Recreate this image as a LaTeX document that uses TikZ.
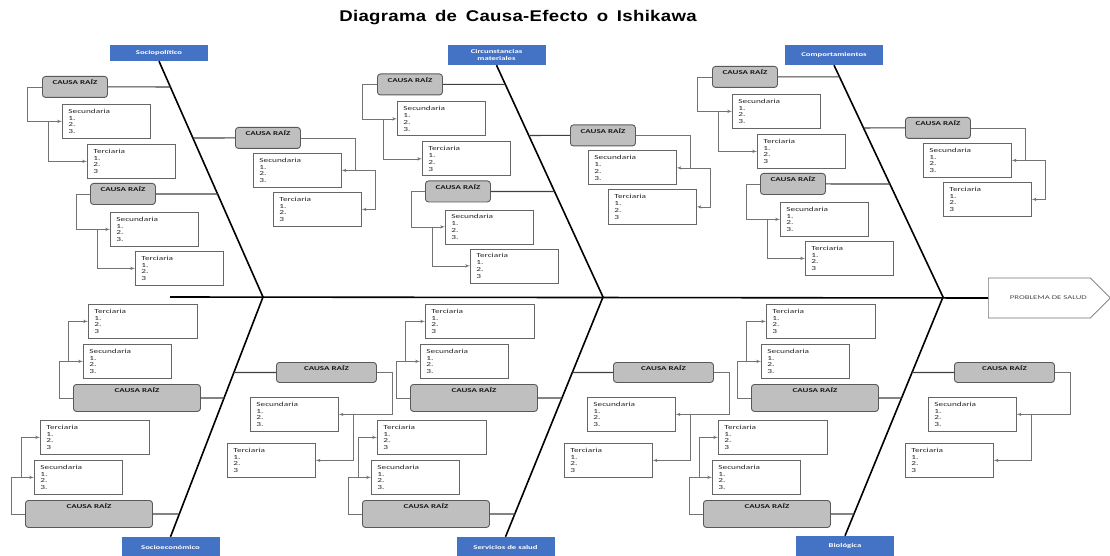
\documentclass[tikz,border=0pt]{standalone}
\usepackage{fontspec}
\setmainfont{Carlito}
\newfontfamily\cajafont[FakeStretch=1.5]{Carlito}
\newfontfamily\titulofont[FakeStretch=1.2,LetterSpace=2,WordSpace=1.6]{Liberation Sans}
\usetikzlibrary{shapes.symbols, arrows, calc}
\definecolor{azulcat}{HTML}{4472C4}
\definecolor{grisraiz}{HTML}{BFBFBF}

\begin{document}
\begin{tikzpicture}[x=1pt, y=-1pt]
    \tikzstyle{cat} = [rectangle, fill=azulcat, text=white, minimum width=98pt, minimum height=20pt, inner sep=1pt, align=center, font=\cajafont\bfseries\fontsize{5.8}{6.5}\selectfont]
    \tikzstyle{raiz} = [rectangle, draw=black!65, line width=0.9pt, fill=grisraiz, rounded corners=3pt, anchor=north west, inner ysep=3pt, text height=5.5pt, text depth=9.5pt, minimum width=65pt, text=black!90, font=\cajafont\bfseries\fontsize{6}{7}\selectfont]
    \tikzstyle{raizg} = [raiz, minimum width=127pt, text depth=15.5pt]
    \tikzstyle{lista} = [rectangle, draw=black!60, line width=0.7pt, fill=white, anchor=north west, align=left, inner xsep=6pt, text width=76pt, minimum height=34pt, text=black!85, font=\cajafont\fontsize{6.2}{6.8}\selectfont]
    \tikzstyle{listag} = [lista, text width=97pt]
    \tikzstyle{link} = [draw=black!55, line width=0.6pt, -latex']
    \tikzstyle{tie} = [draw=black!75, line width=1.1pt]
    \tikzstyle{rib} = [draw=black, line width=1.6pt]

    \useasboundingbox (0,0) rectangle (1110,556);

    \node[font=\titulofont\bfseries\fontsize{15.5}{18}\selectfont] (titulo) at (518,18) {Diagrama de Causa-Efecto o Ishikawa};

    % categorias
    \node[cat, minimum height=16pt] (topcat1) at (159,53) {Sociopolítico};
    \node[cat] (topcat2) at (496.5,55) {Circunstancias\\materiales};
    \node[cat] (topcat3) at (834,55) {Comportamientos};
    \node[cat] (botcat1) at (170.5,547) {Socioeconómico};
    \node[cat] (botcat2) at (505.5,547) {Servicios de salud};
    \node[cat] (botcat3) at (845,546) {Biológica};

    \node[shape=signal, signal to=east, signal pointer angle=90, draw=black!55, line width=0.7pt, fill=white, minimum width=122pt, minimum height=40pt, anchor=west, text=black!70, font=\cajafont\fontsize{5.8}{6.5}\selectfont] (prob) at (988,298) {\hspace*{18pt}PROBLEMA DE SALUD};

    % espina
    \coordinate (cola) at (170,297);
    \coordinate (j1) at (263,297);
    \coordinate (j2) at (603,297);
    \coordinate (j3) at (943,297);
    \path [rib] (cola) -- (prob.west);
    \foreach \i in {1,2,3}
        \path [rib] (topcat\i.south) -- (j\i) -- (botcat\i.north);

    % causas de arriba
    \foreach \i/\dx/\dy in {1/0/0, 2/335/-2.5, 3/670/-10} {
        \begin{scope}[shift={(\dx,\dy)}]
            \node [raiz] (cra\i) at (42,76) {CAUSA RAÍZ};
            \node [lista] (seca\i) at (62,104) {Secundaria\\1.\\2.\\3.};
            \node [lista] (tera\i) at (87,144) {Terciaria\\1.\\2.\\3};
            \node [raiz] (crb\i) at (90,183) {CAUSA RAÍZ};
            \node [lista] (secb\i) at (110,212) {Secundaria\\1.\\2.\\3.};
            \node [lista] (terb\i) at (135,251) {Terciaria\\1.\\2.\\3};
            \node [raiz] (crc\i) at (235,127) {CAUSA RAÍZ};
            \node [lista] (secc\i) at (253,153) {Secundaria\\1.\\2.\\3.};
            \node [lista] (terc\i) at (273,192) {Terciaria\\1.\\2.\\3};
        \end{scope}
        \path [tie] (cra\i.east) -- (intersection of cra\i.west--cra\i.east and topcat\i.south--j\i);
        \path [tie] (crb\i.east) -- (intersection of crb\i.west--crb\i.east and topcat\i.south--j\i);
        \path [tie] (crc\i.west) -- (intersection of crc\i.west--crc\i.east and topcat\i.south--j\i);
        \path [link] (cra\i.west) -- ++(-15,0) |- (seca\i.west);
        \path [link] ($(seca\i.west)+(-14,0)$) |- (tera\i.west);
        \path [link] (crb\i.west) -- ++(-14,0) |- (secb\i.west);
        \path [link] ($(secb\i.west)+(-13,0)$) |- (terb\i.west);
        \path [link] (crc\i.east) -| ($(secc\i.east)+(14,0)$) -- (secc\i.east);
        \path [link] ($(secc\i.east)+(14,0)$) -- ++(20,0) |- (terc\i.east);
    }

    % causas de abajo
    \foreach \i/\dx in {1/0, 2/337, 3/678} {
        \begin{scope}[shift={(\dx,0)}]
            \node [listag] (terd\i) at (88,304) {Terciaria\\1.\\2.\\3};
            \node [lista] (secd\i) at (83,344) {Secundaria\\1.\\2.\\3.};
            \node [raizg] (crd\i) at (73,384) {CAUSA RAÍZ};
            \node [listag] (tere\i) at (40,420) {Terciaria\\1.\\2.\\3};
            \node [lista] (sece\i) at (34,460) {Secundaria\\1.\\2.\\3.};
            \node [raizg] (cre\i) at (25,500) {CAUSA RAÍZ};
            \node [raiz, minimum width=100pt, text depth=8.5pt] (crf\i) at (276,362) {CAUSA RAÍZ};
            \node [lista] (secf\i) at (250,397) {Secundaria\\1.\\2.\\3.};
            \node [lista] (terf\i) at (227,443) {Terciaria\\1.\\2.\\3};
        \end{scope}
        \path [tie] (crd\i.east) -- (intersection of crd\i.west--crd\i.east and j\i--botcat\i.north);
        \path [tie] (cre\i.east) -- (intersection of cre\i.west--cre\i.east and j\i--botcat\i.north);
        \path [tie] (crf\i.west) -- (intersection of crf\i.west--crf\i.east and j\i--botcat\i.north);
        \path [link] (crd\i.west) -- ++(-14,0) |- (secd\i.west);
        \path [link] ($(secd\i.west)+(-15,0)$) |- (terd\i.west);
        \path [link] (cre\i.west) -- ++(-14,0) |- (sece\i.west);
        \path [link] ($(sece\i.west)+(-13,0)$) |- (tere\i.west);
        \path [link] (crf\i.east) -- ++(15,0) |- (secf\i.east);
        \path [link] ($(secf\i.east)+(15,0)$) |- (terf\i.east);
    }
\end{tikzpicture}
\end{document}
